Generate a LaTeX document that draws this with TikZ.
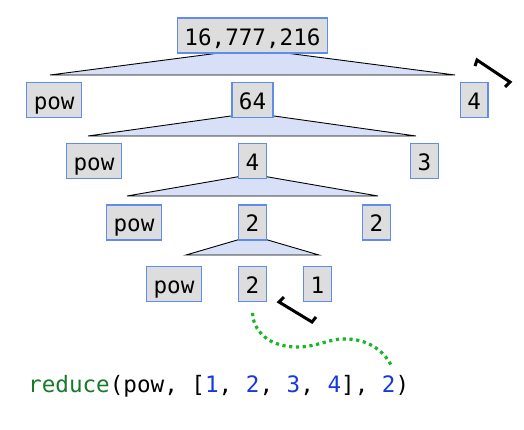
\documentclass[tikz,border=0pt]{standalone}
\usepackage{fontspec}
\setmonofont{DejaVu Sans Mono}
\usepackage{xcolor}
\usetikzlibrary{positioning,backgrounds}
\definecolor{boxfill}{RGB}{221,221,222}
\definecolor{boxline}{RGB}{96,140,234}
\definecolor{trifill}{RGB}{216,224,247}
\definecolor{codegreen}{RGB}{22,122,40}
\definecolor{codeblue}{RGB}{20,58,222}
\definecolor{dotgreen}{RGB}{24,182,40}
\begin{document}
\begin{tikzpicture}[x=1pt, y=-1pt,
  every node/.style={font=\ttfamily\fontsize{22.6}{27}\selectfont},
  valbox/.style={rectangle, draw=boxline, line width=1.3pt, fill=boxfill, minimum height=35pt, inner xsep=7pt, inner ysep=6.5pt, text height=20.5pt, text depth=1.5pt},
  calltri/.style={draw=black, line width=0.9pt, fill=trifill},
  bracket/.style={draw=black, line width=3pt}]
\useasboundingbox (0,0) rectangle (524,429);
\node[valbox] (r0) at (252.5,35.5) {16,777,216};
\node[valbox, below=28pt of r0] (acc1) {64};
\node[valbox, left=149pt of acc1] (pow1) {pow};
\node[valbox, right=186pt of acc1] (arg1) {4};
\node[valbox, below=25pt of acc1] (acc2) {4};
\node[valbox, left=116pt of acc2] (pow2) {pow};
\node[valbox, right=143pt of acc2] (arg2) {3};
\node[valbox, below=25pt of acc2] (acc3) {2};
\node[valbox, left=76pt of acc3] (pow3) {pow};
\node[valbox, right=95pt of acc3] (arg3) {2};
\node[valbox, below=25pt of acc3] (acc4) {2};
\node[valbox, left=36pt of acc4] (pow4) {pow};
\node[valbox, right=36pt of acc4] (arg4) {1};
\node[anchor=base west, inner sep=0pt] (call) at (28,392) {\textcolor{codegreen}{reduce}(pow, [\textcolor{codeblue}{1}, \textcolor{codeblue}{2}, \textcolor{codeblue}{3}, \textcolor{codeblue}{4}], \textcolor{codeblue}{2})};
\coordinate (lastarg) at (392,367);
\begin{scope}[on background layer]
\draw[calltri] ([yshift=5pt]r0.south) -- (50,75) -- (455,75) -- cycle;
\draw[calltri] ([yshift=5pt]acc1.south) -- (88,136) -- (416,136) -- cycle;
\draw[calltri] ([yshift=5pt]acc2.south) -- (127,196) -- (378,196) -- cycle;
\draw[calltri] ([yshift=5pt]acc3.south) -- (186,255) -- (319,255) -- cycle;
\end{scope}
\draw[bracket] (475,66) -- (477,60) -- (510,82) -- (505,87);
\draw[bracket] (284,297) -- (279,302) -- (312,322) -- (316,317);
\draw[dotgreen, line width=3.2pt, dash pattern=on 3.2pt off 3.6pt] ([yshift=-11pt]acc4.south) .. controls (253,330) and (268,348) .. (300,347) .. controls (320,346) and (330,338) .. (348,339) .. controls (370,340) and (385,352) .. (lastarg);
\end{tikzpicture}
\end{document}
